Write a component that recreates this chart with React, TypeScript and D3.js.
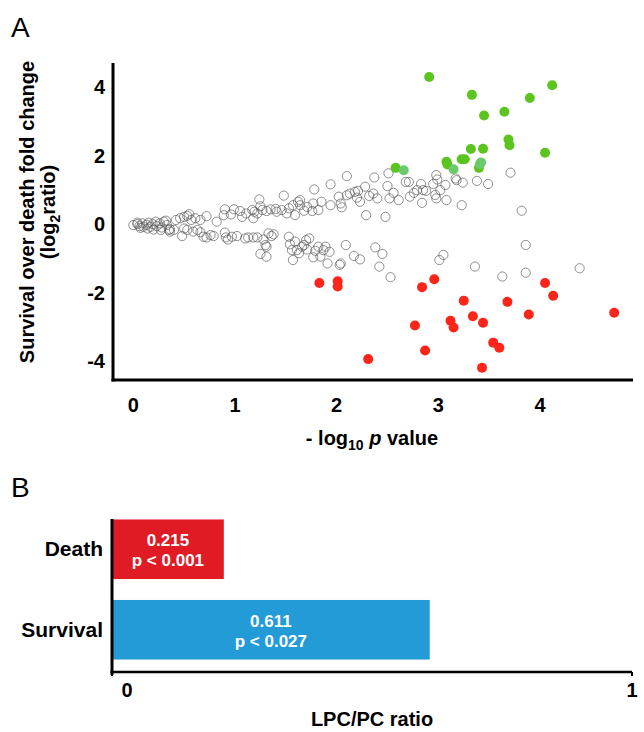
import { scaleBand, scaleLinear } from "d3";

// panel A: -log10 p (x) vs log2 fold change (y)
const greyPoints: [number, number][] = [
  [0.0, -0.03], [0.04, 0.0], [0.06, -0.06], [0.09, 0.02], [0.1, -0.08], [0.13, -0.02], [0.15, 0.04],
  [0.17, -0.08], [0.19, 0.0], [0.22, 0.07], [0.23, -0.06], [0.26, 0.02], [0.28, -0.1], [0.3, 0.07],
  [0.33, -0.03], [0.35, -0.17], [0.32, 0.1], [0.36, -0.22], [0.27, -0.17], [0.2, -0.16], [0.14, -0.13],
  [0.07, -0.11], [0.04, 0.04],
  [0.42, 0.12], [0.46, 0.17], [0.5, 0.21], [0.53, 0.24], [0.55, 0.29], [0.57, 0.12], [0.61, 0.17],
  [0.66, 0.12], [0.72, 0.23], [0.82, 0.07], [0.9, 0.43], [0.89, 0.26], [0.96, 0.28], [0.99, 0.43],
  [1.05, 0.38], [1.07, 0.21], [1.11, 0.31], [1.17, 0.41], [1.19, 0.36], [1.22, 0.31], [1.18, 0.17],
  [1.24, 0.72], [1.25, 0.52], [1.27, 0.41], [1.31, 0.38], [1.35, 0.43], [1.4, 0.44], [1.41, 0.36],
  [1.46, 0.41], [1.48, 0.83], [1.51, 0.31], [1.53, 0.46], [1.57, 0.55], [1.59, 0.26], [1.62, 0.65],
  [1.64, 0.7], [1.64, 0.55], [1.68, 0.39], [1.71, 0.5], [1.76, 0.38], [1.78, 1.01], [1.77, 0.6],
  [1.82, 0.41], [1.85, 0.65], [1.94, 1.16], [1.94, 0.55], [2.02, 0.8], [2.04, 0.6], [2.05, 0.49],
  [2.1, 1.4], [2.1, 0.84], [2.13, 0.89], [2.18, 0.94], [2.2, 0.77], [2.21, 0.97], [2.23, 0.65],
  [2.28, 1.09], [2.29, 0.26], [2.32, 0.82], [2.36, 0.89], [2.37, 1.36], [2.4, 0.75], [2.48, 0.21],
  [2.5, 1.11], [2.51, 1.48], [2.52, 0.75], [2.56, 0.91], [2.61, 0.7], [2.68, 1.23], [2.71, 1.23],
  [2.72, 0.8], [2.76, 0.91], [2.79, 0.99],
  [2.83, 1.17], [2.98, 1.43], [2.99, 1.3], [3.07, 1.14], [3.17, 1.33], [3.18, 1.28], [3.24, 1.21],
  [3.38, 1.26], [3.49, 1.17], [3.71, 1.5], [2.84, 0.62], [2.85, 0.99], [2.88, 0.97], [2.95, 1.17],
  [2.97, 0.85], [2.98, 0.75], [3.02, 0.99], [3.08, 0.7], [3.23, 0.55], [3.82, 0.39],
  [0.36, -0.15], [0.4, -0.17], [0.48, -0.35], [0.5, -0.13], [0.53, -0.17], [0.59, -0.22], [0.63, -0.17],
  [0.66, -0.24], [0.69, -0.37], [0.72, -0.39], [0.76, -0.32], [0.79, -0.35], [0.9, -0.25], [0.91, -0.39],
  [0.93, -0.45], [0.97, -0.37], [1.02, -0.35], [1.1, -0.42], [1.13, -0.39], [1.18, -0.39], [1.22, -0.39],
  [1.25, -0.87], [1.28, -0.45], [1.3, -0.61], [1.31, -0.66], [1.31, -0.95], [1.33, -0.27], [1.36, -0.35],
  [1.38, -0.3], [1.53, -0.37], [1.54, -0.59], [1.56, -0.76], [1.57, -1.05], [1.59, -0.51], [1.61, -0.76],
  [1.63, -0.85], [1.66, -0.66], [1.68, -0.61], [1.7, -0.47], [1.71, -0.74], [1.73, -0.42], [1.77, -0.97],
  [1.79, -0.78], [1.82, -0.66], [1.84, -0.95], [1.87, -0.76], [1.89, -0.66], [1.91, -1.15], [1.93, -0.81],
  [2.03, -1.19], [2.04, -1.15], [2.09, -0.61], [2.17, -0.93], [2.23, -1.03], [2.38, -0.68], [2.42, -1.24],
  [2.45, -0.87], [2.53, -1.55],
  [3.01, -1.05], [3.05, -0.9], [3.36, -1.24], [3.86, -0.61], [3.63, -1.53], [3.86, -1.42], [4.39, -1.29]
];

const upPoints: [number, number][] = [
  [2.91, 4.29], [3.33, 3.77], [4.12, 4.05], [3.9, 3.68], [3.45, 3.17], [3.65, 3.28], [3.69, 2.47],
  [3.7, 2.3], [3.32, 2.19], [3.44, 2.2], [4.05, 2.08], [3.08, 1.82], [3.09, 1.74], [3.23, 1.89],
  [3.26, 1.89], [3.4, 1.64], [2.58, 1.64]
];

const upFaintPoints: [number, number][] = [
  [2.66, 1.57], [3.15, 1.6], [3.42, 1.8], [3.41, 1.75]
];

const downPoints: [number, number][] = [
  [1.83, -1.72], [2.01, -1.67], [2.01, -1.82], [2.31, -3.94], [2.84, -1.84], [2.96, -1.61], [2.77, -2.96],
  [2.87, -3.69], [3.12, -2.82], [3.15, -3.02], [3.25, -2.24], [3.34, -2.69], [3.44, -2.88], [3.43, -4.19],
  [3.54, -3.46], [3.6, -3.61], [3.68, -2.27], [3.89, -2.64], [4.05, -1.72], [4.13, -2.09], [4.73, -2.59]
];

const xTicksA = [0, 1, 2, 3, 4];
const yTicksA = [4, 2, 0, -2, -4];

// panel B
const groups = ["Death", "Survival"];
const ratios = [0.215, 0.611];
const pLabels = ["p < 0.001", "p < 0.027"];
const barColors = ["#e01b24", "#239bd6"];
const xTicksB = [0, 1];

const font = "'Liberation Sans', Arial, sans-serif";

export default function App() {
  const x = scaleLinear().domain([-0.2, 4.915]).range([113, 633]);
  const y = scaleLinear().domain([-4.55, 4.7]).range([380, 63]);

  const xB = scaleLinear().domain([0, 1]).range([112, 632]);
  const yB = scaleBand().domain(groups).range([509, 670]).paddingInner(0.26).paddingOuter(0.13);

  return (
    <svg
      width={644}
      height={732}
      style={{ position: "absolute", left: 0, top: 0, background: "#fff" }}
      fontFamily={font}
    >
      <text x={11} y={37} fontSize={28}>A</text>

      {greyPoints.map(([a, b], i) => (
        <circle key={`g${i}`} cx={x(a)} cy={y(b)} r={4.6} fill="none" stroke="#555" strokeOpacity={0.65} strokeWidth={1} />
      ))}
      {upPoints.map(([a, b], i) => (
        <circle key={`u${i}`} cx={x(a)} cy={y(b)} r={5} fill="#5cc41e" />
      ))}
      {upFaintPoints.map(([a, b], i) => (
        <circle key={`f${i}`} cx={x(a)} cy={y(b)} r={5} fill="#6cc96c" />
      ))}
      {downPoints.map(([a, b], i) => (
        <circle key={`d${i}`} cx={x(a)} cy={y(b)} r={5} fill="#fb2519" />
      ))}

      <line x1={113} x2={113} y1={63} y2={381.5} stroke="#000" strokeWidth={3} />
      <line x1={111.5} x2={633} y1={380} y2={380} stroke="#000" strokeWidth={3} />

      {yTicksA.map((t) => (
        <text key={t} x={105} y={y(t) + 7} fontSize={20} fontWeight="bold" textAnchor="end">
          {t < 0 ? `-${Math.abs(t)}` : t}
        </text>
      ))}
      {xTicksA.map((t) => (
        <text key={t} x={x(t)} y={412} fontSize={20} fontWeight="bold" textAnchor="middle">{t}</text>
      ))}

      <text x={372} y={445} fontSize={20} fontWeight="bold" textAnchor="middle">
        - log<tspan fontSize={14} dy={5}>10</tspan>
        <tspan dy={-5}>{" "}</tspan>
        <tspan fontStyle="italic">p</tspan> value
      </text>

      <g transform="translate(34,212) rotate(-90)">
        <text fontSize={20} fontWeight="bold" textAnchor="middle">Survival over death fold change</text>
        <text y={21} fontSize={20} fontWeight="bold" textAnchor="middle">
          (log<tspan fontSize={14} dy={5}>2</tspan><tspan dy={-5}>ratio)</tspan>
        </text>
      </g>

      <text x={11} y={497} fontSize={28}>B</text>

      {groups.map((g, i) => {
        const top = yB(g) ?? 0;
        const mid = top + yB.bandwidth() / 2;
        const cx = (xB(0) + xB(ratios[i])) / 2;
        return (
          <g key={g}>
            <rect x={xB(0)} y={top} width={xB(ratios[i]) - xB(0)} height={yB.bandwidth()} fill={barColors[i]} />
            <text x={cx} y={mid - 3} fill="#fff" fontSize={17} fontWeight="bold" textAnchor="middle">
              {ratios[i].toFixed(3)}
            </text>
            <text x={cx} y={mid + 17} fill="#fff" fontSize={17} fontWeight="bold" textAnchor="middle">
              {pLabels[i]}
            </text>
            <text x={103} y={mid + 7} fontSize={21} fontWeight="bold" textAnchor="end">{g}</text>
          </g>
        );
      })}

      <line x1={112} x2={112} y1={519} y2={675} stroke="#000" strokeWidth={3} />
      <line x1={110.5} x2={632} y1={672} y2={672} stroke="#000" strokeWidth={2.5} />
      {xTicksB.map((t) => (
        <g key={t}>
          <line x1={xB(t)} x2={xB(t)} y1={672} y2={676} stroke="#000" strokeWidth={2} />
          <text x={xB(t) + (t === 0 ? 15 : 0)} y={697} fontSize={20} fontWeight="bold" textAnchor="middle">{t}</text>
        </g>
      ))}
      <text x={372} y={726} fontSize={20} fontWeight="bold" textAnchor="middle">LPC/PC ratio</text>
    </svg>
  );
}
